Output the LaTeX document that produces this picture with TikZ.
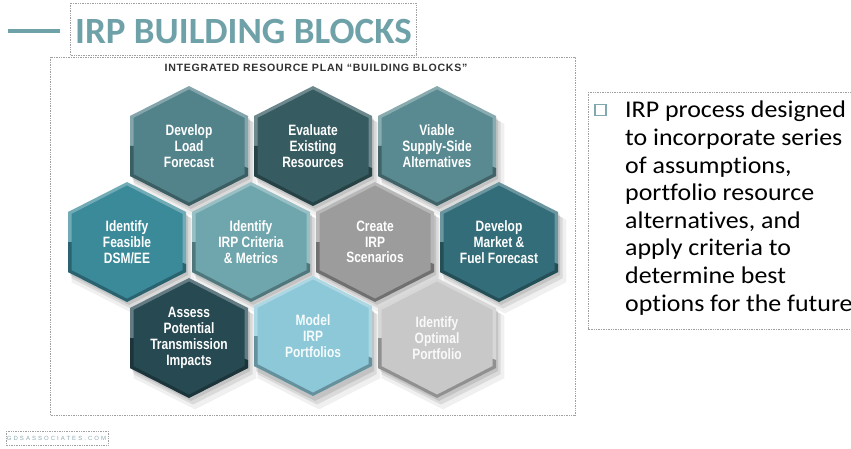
\documentclass[tikz,border=0pt]{standalone}
\usepackage{fontspec}
\setmainfont{Carlito}
\newfontfamily\bodyfont[FakeStretch=1.08,Ligatures=NoCommon]{Carlito}
\newfontfamily\hexfont[FakeStretch=0.8,BoldFont={Liberation Sans Bold}]{Liberation Sans}
\newfontfamily\capsfont[LetterSpace=7,BoldFont={Liberation Sans Bold}]{Liberation Sans}
\newfontfamily\footfont[LetterSpace=34]{Liberation Sans}

\definecolor{titleteal}{RGB}{111,161,169}
\definecolor{bulletteal}{RGB}{127,169,174}
\definecolor{boxgray}{RGB}{160,160,160}
\definecolor{capsgray}{RGB}{50,50,50}
\definecolor{foottext}{RGB}{140,172,178}
\definecolor{hexA}{RGB}{82,130,138}
\definecolor{hexB}{RGB}{54,91,96}
\definecolor{hexC}{RGB}{90,138,145}
\definecolor{hexD}{RGB}{58,138,154}
\definecolor{hexE}{RGB}{111,166,173}
\definecolor{hexF}{RGB}{156,156,156}
\definecolor{hexG}{RGB}{51,109,121}
\definecolor{hexH}{RGB}{39,73,82}
\definecolor{hexI}{RGB}{140,200,216}
\definecolor{hexJ}{RGB}{200,200,200}

\tikzset{
  dotbox/.style={draw=boxgray, line width=0.6pt, dash pattern=on 0.8pt off 0.9pt},
  hextext/.style={text=white, align=center, inner sep=0pt,
    font=\hexfont\bfseries\fontsize{15}{15.8}\selectfont},
}

% hexagon outline around the current origin
\newcommand\hexshape{(0,-60) -- (59,-30) -- (59,30) -- (0,60) -- (-59,30) -- (-59,-30) -- cycle}
\newcommand\hexinner{(0,-56.5) -- (55.5,-28) -- (55.5,28) -- (0,56.5) -- (-55.5,28) -- (-55.5,-28) -- cycle}

% soft drop shadow of one block
\newcommand\hexdrop[2]{%
  \begin{scope}[shift={(#1,#2)}]
    \fill[black,opacity=0.06,shift={(6,9)},scale=1.04] \hexshape;
    \fill[black,opacity=0.09,shift={(4,6)},scale=1.01] \hexshape;
    \fill[black,opacity=0.10,shift={(2,3)}] \hexshape;
  \end{scope}}

% one bevelled block: name, x, y, colour, label, text colour
\newcommand\hexblock[6]{%
  \begin{scope}[shift={(#2,#3)}]
    \fill[#4!72!white] \hexshape;
    \fill[#4!72!black] (-59,0) -- (-59,30) -- (0,60) -- (59,30) -- (59,22) -- (0,0) -- cycle;
    \fill[#4] \hexinner;
    \node[hextext,text=#6] (#1) at (0,0) {#5};
  \end{scope}}

\begin{document}
\begin{tikzpicture}[x=1pt,y=-1pt]
  \useasboundingbox (0,0) rectangle (851,449);
  \fill[white] (0,0) rectangle (851,449);

  % heading
  \draw[titleteal, line width=3.5pt] (8,31) -- (60,31);
  \draw[dotbox] (70,3) rectangle (416,55);
  \node[anchor=base west, inner sep=0pt, text=titleteal,
        font=\bfseries\fontsize{37}{40}\selectfont] (title) at (75,44) {IRP BUILDING BLOCKS};

  % frame of the building-block graphic
  \draw[dotbox] (50,57) rectangle (575,415);
  \node[inner sep=0pt, text=capsgray, font=\capsfont\bfseries\fontsize{10.6}{12}\selectfont]
    (caption) at (316,67.5) {INTEGRATED RESOURCE PLAN “BUILDING BLOCKS”};

  % shadows first, so that every block sits on top of them
  \foreach \cx/\cy in {189/146,313/146,437/146,127/242,251/242,375/242,499/242,189/338,313/338,437/338}
    {\hexdrop{\cx}{\cy}}

  \hexblock{load}{189}{146}{hexA}{Develop\\Load\\Forecast}{white}
  \hexblock{existing}{313}{146}{hexB}{Evaluate\\Existing\\Resources}{white}
  \hexblock{supply}{437}{146}{hexC}{Viable\\Supply-Side\\Alternatives}{white}
  \hexblock{dsm}{127}{242}{hexD}{Identify\\Feasible\\DSM/EE}{white}
  \hexblock{criteria}{251}{242}{hexE}{Identify\\IRP Criteria\\\& Metrics}{white}
  \hexblock{scenarios}{375}{242}{hexF}{Create\\IRP\\Scenarios}{white}
  \hexblock{market}{499}{242}{hexG}{Develop\\Market \&\\Fuel Forecast}{white}
  \hexblock{transmission}{189}{338}{hexH}{Assess\\Potential\\Transmission\\Impacts}{white}
  \hexblock{portfolios}{313}{336}{hexI}{Model\\IRP\\Portfolios}{white!92!hexI}
  \hexblock{optimal}{437}{338}{hexJ}{Identify\\Optimal\\Portfolio}{white!90!hexJ}

  % bullet text
  \draw[dotbox] (588,92) -- (851,92) (588,92) -- (588,329) -- (851,329);
  \node[draw=bulletteal, line width=1.6pt, minimum size=11pt, inner sep=0pt] (bullet) at (600.5,110) {};
  \node[anchor=north west, inner sep=0pt, align=left, text=black,
        font=\bodyfont\fontsize{24}{27.6}\selectfont] (points) at (625,101)
    {IRP process designed\\to incorporate series\\of assumptions,\\portfolio resource\\alternatives, and\\apply criteria to\\determine best\\options for the future};

  % footer
  \draw[dotbox] (6,431) rectangle (108,445);
  \node[inner sep=0pt, text=foottext, font=\footfont\fontsize{6}{7}\selectfont] (site) at (56.5,438) {GDSASSOCIATES.COM};
\end{tikzpicture}
\end{document}
